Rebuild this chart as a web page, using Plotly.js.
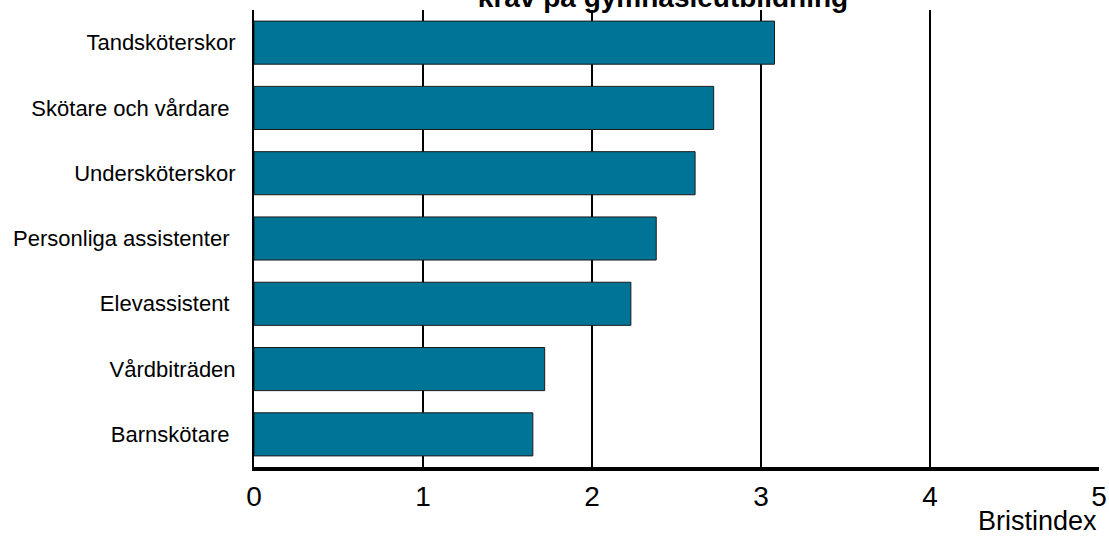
<!DOCTYPE html>
<html>
<head>
<meta charset="utf-8">
<script src="https://cdn.plot.ly/plotly-3.0.1.min.js"></script>
<style>
html, body { margin: 0; padding: 0; background: #ffffff; }
#chart { width: 1109px; height: 537px; }
</style>
</head>
<body>
<div id="chart"></div>
<script>
const titleText = 'krav på gymnasieutbildning';
const xAxisTitle = 'Bristindex';
const categories = [
  'Tandsköterskor',
  'Skötare och vårdare\u00a0',
  'Undersköterskor',
  'Personliga assistenter\u00a0',
  'Elevassistent\u00a0',
  'Vårdbiträden',
  'Barnskötare\u00a0'
];
const bristindex = [3.08, 2.72, 2.61, 2.38, 2.23, 1.72, 1.65];
const xTickVals = [0, 1, 2, 3, 4, 5];

const font = 'Liberation Sans, Arial, sans-serif';

const trace = {
  type: 'bar',
  orientation: 'h',
  y: categories,
  x: bristindex,
  marker: { color: '#007497', line: { color: '#1a1a1a', width: 1 } },
  hoverinfo: 'none'
};

const layout = {
  width: 1109,
  height: 537,
  margin: { l: 254, r: 10, t: 10, b: 70, pad: 0 },
  paper_bgcolor: '#ffffff',
  plot_bgcolor: '#ffffff',
  bargap: 0.34,
  showlegend: false,
  font: { family: font, color: '#000000' },
  title: {
    text: '<b>' + titleText + '</b>',
    font: { family: font, size: 28, color: '#000000' },
    xref: 'paper', x: 0.484, xanchor: 'center',
    yref: 'container', y: 0.987, yanchor: 'bottom'
  },
  xaxis: {
    range: [0, 5],
    tickvals: xTickVals,
    ticks: '',
    ticklabelstandoff: 1,
    tickfont: { family: font, size: 28, color: '#000000' },
    showgrid: true,
    gridcolor: '#000000',
    gridwidth: 2,
    zeroline: false,
    showline: true,
    linecolor: '#000000',
    linewidth: 4,
    fixedrange: true
  },
  yaxis: {
    autorange: 'reversed',
    ticks: '',
    ticklabelstandoff: 12,
    tickfont: { family: font, size: 22, color: '#000000' },
    showgrid: false,
    zeroline: false,
    showline: true,
    linecolor: '#000000',
    linewidth: 2,
    fixedrange: true
  },
  annotations: [{
    text: xAxisTitle,
    xref: 'paper', x: 1.0, xanchor: 'right',
    yref: 'paper', y: -0.118, yanchor: 'middle',
    showarrow: false,
    font: { family: font, size: 27, color: '#000000' }
  }]
};

Plotly.newPlot('chart', [trace], layout, { displayModeBar: false, staticPlot: true });
</script>
</body>
</html>
